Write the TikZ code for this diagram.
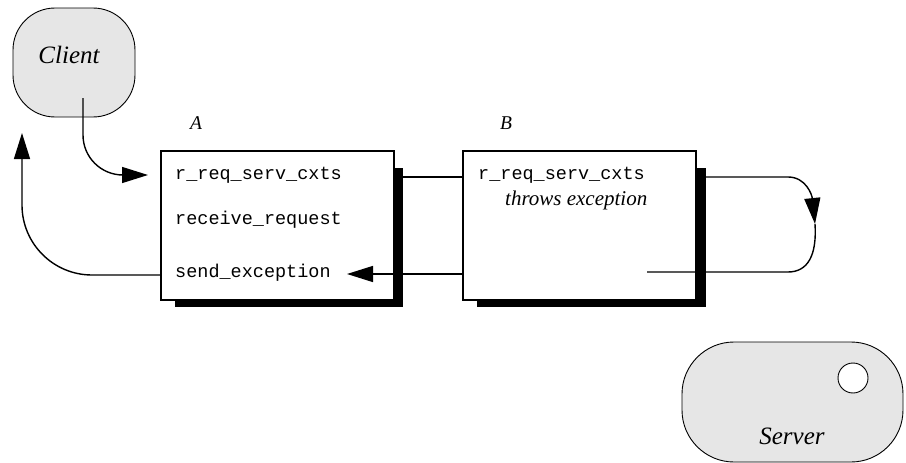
\documentclass[tikz,border=0pt]{standalone}
\usepackage{fontspec}
\setmainfont{Liberation Serif}
\setmonofont{Liberation Mono}
\usetikzlibrary{arrows.meta,calc}
\definecolor{shellgray}{HTML}{E6E6E6}
\tikzset{
  shell/.style={rectangle, draw=black, fill=shellgray, line width=0.9pt, inner sep=0pt},
  proc/.style={rectangle, draw=black, fill=white, line width=1.6pt, inner sep=0pt},
  dropshadow/.style={rectangle, fill=black, draw=none, inner sep=0pt},
  code/.style={font=\fontsize{18.5}{22}\selectfont\ttfamily, anchor=base west, inner sep=0pt},
  tag/.style={font=\fontsize{19.5}{22}\selectfont\itshape, anchor=base, inner sep=0pt},
  big/.style={font=\fontsize{25}{28}\selectfont\itshape, anchor=base, inner sep=0pt},
  ar/.style={-{Triangle[length=26pt,width=16pt]}, line width=1.4pt},
  ln/.style={line width=1.4pt},
}

\begin{document}
\begin{tikzpicture}[x=1pt,y=-1pt]
\useasboundingbox (0,0) rectangle (906,463);

% ---------- client / server ----------
\node[shell,rounded corners=42pt,minimum width=122pt,minimum height=109pt] (client) at (74,62.5) {};
\node[big] (clientlbl) at (69,63) {Client};
\node[shell,rounded corners=52pt,minimum width=221pt,minimum height=120pt] (server) at (792.5,402) {};
\node[circle,draw=black,fill=white,line width=0.9pt,minimum size=30pt,inner sep=0pt] (port) at (853,378) {};
\node[big] (serverlbl) at (792,444) {Server};

% ---------- boxes A and B ----------
\node[dropshadow,minimum width=228pt,minimum height=139pt] (shA) at (289,237.5) {};
\node[dropshadow,minimum width=229pt,minimum height=139pt] (shB) at (591.5,237.5) {};
\node[proc,minimum width=233pt,minimum height=149pt] (boxA) at (277.5,225.5) {};
\node[proc,minimum width=233pt,minimum height=149pt] (boxB) at (579.5,225.5) {};
\node[tag] (tagA) at (196,129) {A};
\node[tag] (tagB) at (506,129) {B};

\node[code] (aReq)  at (175,179) {r\_req\_serv\_cxts};
\node[code] (aRecv) at (175,224) {receive\_request};
\node[code] (aSend) at (175,277) {send\_exception};
\node[code] (bReq)  at (478,179) {r\_req\_serv\_cxts};
\node[font=\fontsize{21}{24}\selectfont\itshape,anchor=base west,inner sep=0pt] (bThrow) at (505,205) {throws exception};

% ---------- free ends ----------
\coordinate (clOut) at (83,98);
\coordinate (aIn)   at (148,175);
\coordinate (clIn)  at (22,133);
\coordinate (aBack) at (161,275);
\coordinate (abY)   at (0,177);
\coordinate (aTip)  at (347,274);
\coordinate (lpTop) at (788,177);
\coordinate (lpMid) at (815,224);
\coordinate (lpBot) at (788,272);
\coordinate (bEnd)  at (647,272);

% ---------- connectors ----------
\draw[ar,rounded corners=40pt] (clOut) |- (aIn);
\draw[ar,rounded corners=70pt] (aBack) -| (clIn);
\draw[ln] (shA.east |- abY) -- (boxB.west |- abY);
\draw[ar] (boxB.west |- aTip) -- (aTip);
\draw[ar] (shB.east |- lpTop) -- (lpTop) .. controls (806,177) and (812,195) .. (lpMid);
\draw[ln] (lpMid) .. controls (817,255) and (808,272) .. (lpBot) -- (bEnd);
\end{tikzpicture}
\end{document}
